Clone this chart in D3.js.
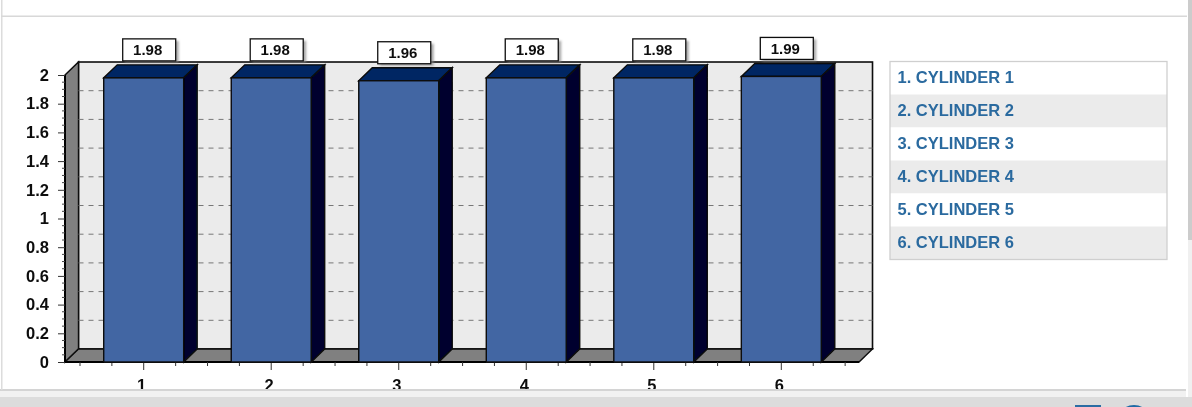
<!DOCTYPE html>
<html><head><meta charset="utf-8">
<script src="https://cdn.jsdelivr.net/npm/d3@7/dist/d3.min.js"></script>
<style>html,body{margin:0;padding:0;background:#fff;overflow:hidden}svg{display:block;font-family:"Liberation Sans",Arial,sans-serif}</style>
</head><body><svg id="c" width="1192" height="407"></svg>
<script>
const categories = ["1","2","3","4","5","6"];
const values = [1.98,1.98,1.96,1.98,1.98,1.99];
const valueLabels = ["1.98","1.98","1.96","1.98","1.98","1.99"];
const yTicks = [0,0.2,0.4,0.6,0.8,1,1.2,1.4,1.6,1.8,2];
const legendItems = ["1. CYLINDER 1","2. CYLINDER 2","3. CYLINDER 3","4. CYLINDER 4","5. CYLINDER 5","6. CYLINDER 6"];

const svg = d3.select("#c");
const defs = svg.append("defs");
const soft = defs.append("filter").attr("id","soft");
soft.append("feGaussianBlur").attr("stdDeviation",0.4);
const shadow = defs.append("filter").attr("id","sh").attr("x","-20%").attr("y","-20%").attr("width","150%").attr("height","160%");
shadow.append("feGaussianBlur").attr("stdDeviation",1.2);
defs.append("clipPath").attr("id","clip").append("rect").attr("x",0).attr("y",0).attr("width",1192).attr("height",389);

// page chrome
const chrome = svg.append("g");
chrome.append("rect").attr("x",0).attr("y",397).attr("width",1192).attr("height",10).attr("fill","#dcdcdc");
chrome.append("rect").attr("x",0).attr("y",390).attr("width",1186).attr("height",7).attr("fill","#f1f1f1");
chrome.append("rect").attr("x",0).attr("y",389).attr("width",1186).attr("height",2).attr("fill","#d4d4d4");
chrome.append("rect").attr("x",1).attr("y",0).attr("width",1.5).attr("height",390).attr("fill","#dcdcdc");
chrome.append("rect").attr("x",1).attr("y",15.5).attr("width",1186).attr("height",1.5).attr("fill","#d8d8d8");
chrome.append("rect").attr("x",1188).attr("y",0).attr("width",4).attr("height",240).attr("fill","#cccccc");
chrome.append("rect").attr("x",1188).attr("y",240).attr("width",4).attr("height",157).attr("fill","#f0f0f0");
chrome.append("rect").attr("x",1075).attr("y",405).attr("width",26).attr("height",2).attr("fill","#2b6ca3");
chrome.append("ellipse").attr("cx",1134).attr("cy",414).attr("rx",13).attr("ry",9).attr("fill","#1f6aa5");

const dx = 13.5, dy = 13;
const y = d3.scaleLinear().domain([0,2]).range([362,75]);
const x = d3.scaleBand().domain(categories).range([80,845]).paddingInner(0.373).paddingOuter(0.186);
const left = 65, right = 859;
const stroke = "#0a0a0a";

const g = svg.append("g");
// walls
g.append("rect").attr("x",left+dx).attr("y",y(2)-dy).attr("width",right-left).attr("height",y(0)-y(2))
 .attr("fill","#ebebeb").attr("stroke",stroke).attr("stroke-width",1.6);
const pts = a => a.map(p=>p.join(",")).join(" ");
g.append("polygon").attr("points",pts([[left,y(2)],[left+dx,y(2)-dy],[left+dx,y(0)-dy],[left,y(0)]]))
 .attr("fill","#808080").attr("stroke",stroke).attr("stroke-width",1.4);
g.append("polygon").attr("points",pts([[left,y(0)],[left+dx,y(0)-dy],[right+dx,y(0)-dy],[right,y(0)]]))
 .attr("fill","#808080").attr("stroke",stroke).attr("stroke-width",1.4);
g.append("line").attr("x1",left).attr("x2",right).attr("y1",y(0)).attr("y2",y(0)).attr("stroke","#000").attr("stroke-width",2);
g.append("line").attr("x1",left).attr("x2",left).attr("y1",y(2)).attr("y2",y(0)).attr("stroke","#000").attr("stroke-width",2);

// grid on back wall
g.selectAll("line.grid").data(yTicks.filter(t=>t>0&&t<2)).join("line").attr("class","grid")
 .attr("x1",left+dx).attr("x2",right+dx).attr("y1",d=>y(d)-dy).attr("y2",d=>y(d)-dy)
 .attr("stroke","#777").attr("stroke-width",1).attr("stroke-dasharray","5 5");

// y axis
const yAxis = g.append("g").attr("transform",`translate(${left},0)`)
 .call(d3.axisLeft(y).tickValues(yTicks).tickFormat(d=>String(+d.toFixed(1))).tickSize(7).tickPadding(9));
yAxis.select(".domain").remove();
yAxis.selectAll("line").attr("stroke","#333");
yAxis.selectAll("text").attr("fill","#111").attr("font-size",16.5).attr("font-weight","bold").attr("font-family","Liberation Sans");
const minorY = d3.range(0,40).filter(i=>i%4).map(i=>i*0.05);
g.selectAll("line.my").data(minorY).join("line").attr("class","my")
 .attr("x1",left-3).attr("x2",left).attr("y1",d=>y(d)).attr("y2",d=>y(d)).attr("stroke","#444");

// x axis
const clipG = g.append("g").attr("clip-path","url(#clip)");
const xAxis = clipG.append("g").attr("transform",`translate(0,${y(0)})`)
 .call(d3.axisBottom(x).tickSize(8).tickPadding(9));
xAxis.select(".domain").remove();
xAxis.selectAll("line").attr("stroke","#333");
xAxis.selectAll("text").attr("fill","#111").attr("font-size",16.5).attr("font-weight","bold").attr("font-family","Liberation Sans").attr("dx",-2);
const step = x.step();
const minorX = d3.range(0,25).map(i=>80+i*step/4).filter((d,i)=>i%4!==2);
clipG.selectAll("line.mx").data(minorX).join("line").attr("class","mx")
 .attr("x1",d=>d).attr("x2",d=>d).attr("y1",y(0)).attr("y2",y(0)+4).attr("stroke","#333");

// bars
const bars = g.selectAll("g.bar").data(categories.map((c,i)=>({c,v:values[i],l:valueLabels[i]}))).join("g").attr("class","bar");
bars.append("polygon").attr("points",d=>{const a=x(d.c),b=a+x.bandwidth(),t=y(d.v);
  return pts([[a,t],[a+dx,t-dy],[b+dx,t-dy],[b,t]]);}).attr("fill","#002663").attr("stroke",stroke).attr("stroke-width",1.4);
bars.append("polygon").attr("points",d=>{const b=x(d.c)+x.bandwidth(),t=y(d.v);
  return pts([[b,t],[b+dx,t-dy],[b+dx,y(0)-dy],[b,y(0)]]);}).attr("fill","#00052e").attr("stroke",stroke).attr("stroke-width",1.4);
bars.append("rect").attr("x",d=>x(d.c)).attr("y",d=>y(d.v)).attr("width",x.bandwidth()).attr("height",d=>y(0)-y(d.v))
 .attr("fill","#4366a3").attr("stroke",stroke).attr("stroke-width",1.4);

// value labels
const bw = 53, bh = 22;
const lab = bars.append("g").attr("transform",d=>`translate(${x(d.c)+x.bandwidth()/2+5-bw/2+0.5},${y(d.v)-39})`);
lab.append("rect").attr("x",2).attr("y",2).attr("width",bw+1).attr("height",bh).attr("fill","#888").attr("opacity",0.7).attr("filter","url(#sh)");
lab.append("rect").attr("width",bw).attr("height",bh).attr("fill","#fff").attr("stroke","#111").attr("stroke-width",1.3);
lab.append("text").attr("x",bw/2-1.5).attr("y",16.5).attr("text-anchor","middle").attr("font-size",15).attr("font-weight","bold").attr("fill","#111").text(d=>d.l);

// legend
const lg = svg.append("g").attr("transform","translate(890,61.5)");
const rowH = 33;
lg.selectAll("rect.row").data(legendItems).join("rect").attr("class","row").attr("x",0).attr("y",(d,i)=>i*rowH)
 .attr("width",277).attr("height",rowH).attr("fill",(d,i)=>i%2?"#ebebeb":"#fff");
lg.append("rect").attr("width",277).attr("height",rowH*6).attr("fill","none").attr("stroke","#cfcfcf").attr("stroke-width",1.3);
lg.selectAll("text").data(legendItems).join("text").attr("x",7.5).attr("y",(d,i)=>i*rowH+21.5)
 .attr("font-size",16.5).attr("font-weight","bold").attr("fill","#2b6a9f").text(d=>d);

g.attr("filter","url(#soft)");
lg.attr("filter","url(#soft)");
</script></body></html>
